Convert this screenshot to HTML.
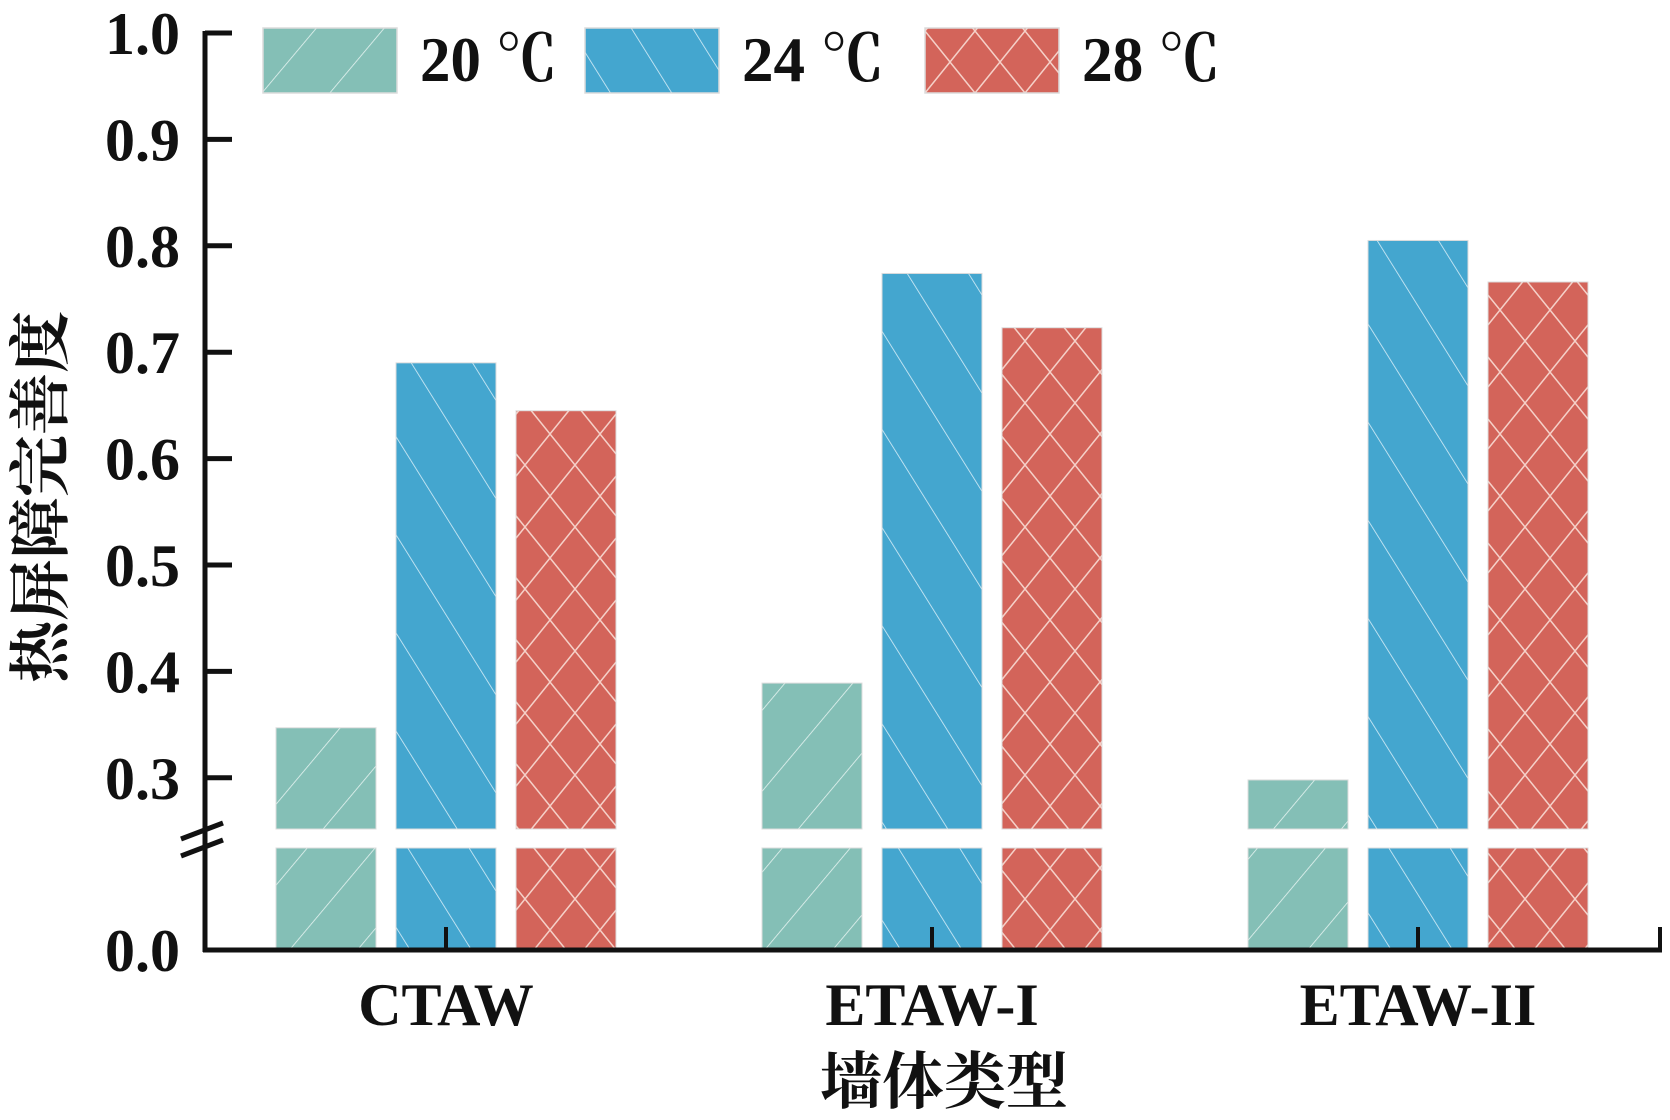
<!DOCTYPE html>
<html><head><meta charset="utf-8">
<style>
html,body{margin:0;padding:0;background:#fff;}
svg{display:block;}
.num{font-family:"Liberation Serif",serif;font-weight:bold;fill:#111;}
.cjk{font-family:"Liberation Serif","Noto Serif CJK SC",serif;font-weight:bold;fill:#111;}
</style></head>
<body>
<svg id="chart" width="1670" height="1120" viewBox="0 0 1670 1120" xmlns="http://www.w3.org/2000/svg">
<defs>
<pattern id="p20" patternUnits="userSpaceOnUse" width="52" height="52" patternTransform="rotate(40)">
<rect width="52" height="52" fill="#84bfb6"/><line x1="0" y1="0" x2="0" y2="52" stroke="#e6f4f1" stroke-width="1.6"/></pattern>
<pattern id="p24" patternUnits="userSpaceOnUse" width="52" height="52" patternTransform="rotate(-32)">
<rect width="52" height="52" fill="#44a6cf"/><line x1="0" y1="0" x2="0" y2="52" stroke="#d8eef8" stroke-width="1.6"/></pattern>
<pattern id="p28" patternUnits="userSpaceOnUse" width="50" height="62">
<rect width="50" height="62" fill="#d3645a"/>
<path d="M0 0 L50 62 M50 0 L0 62 M-25 31 L0 62 M25 -31 L50 0 M75 31 L50 62 M25 93 L0 62" stroke="#f5d0c8" stroke-width="1.5" fill="none"/></pattern>
</defs>
<g id="bars"></g>
<g id="axes"></g>
<g id="legend"></g>
<text class="cjk" font-size="62" text-anchor="middle" transform="translate(62,497) rotate(-90)">热屏障完善度</text>
<text class="cjk" font-size="62" x="944" y="1103" text-anchor="middle">墙体类型</text>
</svg>
<script>
const categories = ["CTAW","ETAW-I","ETAW-II"];
const series = ["20 ℃","24 ℃","28 ℃"];
const values20 = [0.347, 0.389, 0.298];
const values24 = [0.690, 0.774, 0.805];
const values28 = [0.645, 0.723, 0.766];
const yTicks = [0.3,0.4,0.5,0.6,0.7,0.8,0.9,1.0];
const yTickLabels = ["0.3","0.4","0.5","0.6","0.7","0.8","0.9","1.0"];

const NS="http://www.w3.org/2000/svg";
function el(t,a,p){const e=document.createElementNS(NS,t);for(const k in a)e.setAttribute(k,a[k]);p.appendChild(e);return e;}
function yScale(v){return 33+(1-v)*1064;}
const breakBottom=829, lowerTop=848, baseY=950;
function xCenter(i){return 446+i*486;}
const fills=["url(#p20)","url(#p24)","url(#p28)"];
const allVals=[values20,values24,values28];
const bars=document.getElementById('bars');
categories.forEach((c,i)=>{
  allVals.forEach((vals,s)=>{
    const x=xCenter(i)-170+s*120;
    const top=yScale(vals[i]);
    const r1=el('rect',{x:x,y:top,width:100,height:Math.max(0,breakBottom-top),fill:fills[s],stroke:"#dcdcdc","stroke-width":1},bars);
    
    
    const r2=el('rect',{x:x,y:lowerTop,width:100,height:baseY-lowerTop,fill:fills[s],stroke:"#dcdcdc","stroke-width":1},bars);
    
    
  });
});
const ax=document.getElementById('axes');
const yl=el('line',{x1:205,y1:31,x2:205,y2:952,stroke:"#111","stroke-width":5},ax);


const xl=el('line',{x1:203,y1:950,x2:1662,y2:950,stroke:"#111","stroke-width":5},ax);


const et=el('line',{x1:1660,y1:927,x2:1660,y2:952,stroke:"#111","stroke-width":4},ax);


[[839,823],[856,840]].forEach(p=>{
  const b=el('line',{x1:181,y1:p[0],x2:223,y2:p[1],stroke:"#111","stroke-width":5},ax);
  
  
});
yTicks.forEach((v,i)=>{
  const y=yScale(v);
  const t=el('line',{x1:205,y1:y,x2:232,y2:y,stroke:"#111","stroke-width":5},ax);
  
  
  const tx=el('text',{x:180,y:y+21,"text-anchor":"end","font-size":60,class:"num"},ax);
  tx.textContent=yTickLabels[i];
  
  
});
const z=el('text',{x:180,y:971,"text-anchor":"end","font-size":60,class:"num"},ax);
z.textContent="0.0";


categories.forEach((c,i)=>{
  const t=el('line',{x1:xCenter(i),y1:927,x2:xCenter(i),y2:950,stroke:"#111","stroke-width":4},ax);
  
  
  const tx=el('text',{x:xCenter(i),y:1025,"text-anchor":"middle","font-size":60,class:"num"},ax);
  tx.textContent=c;
  
  
});
const lg=document.getElementById('legend');
const lx=[263,585,925], tw=[137,142,138];
series.forEach((s,i)=>{
  const r=el('rect',{x:lx[i],y:28,width:134,height:65,fill:fills[i],stroke:"#dcdcdc","stroke-width":1.5},lg);
  
  
  const t=el('text',{x:lx[i]+157,y:81,"font-size":64,class:"cjk",textLength:tw[i],lengthAdjust:"spacingAndGlyphs"},lg);
  t.textContent=s;
  
  
});
</script>
</body></html>
